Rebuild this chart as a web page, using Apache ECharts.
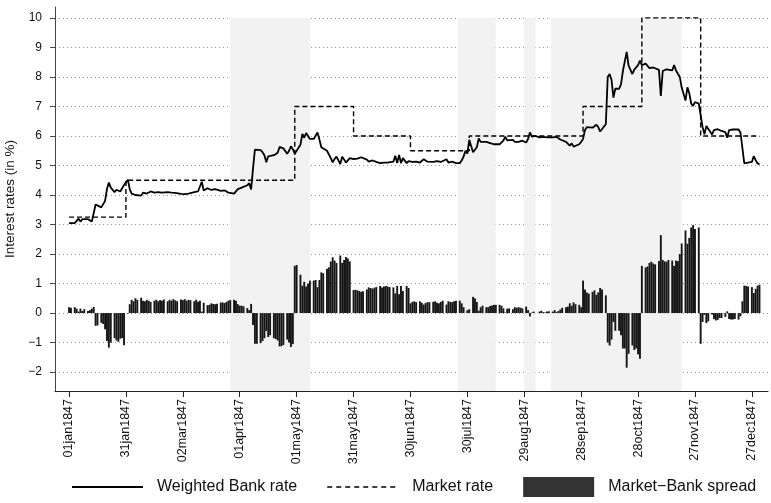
<!DOCTYPE html>
<html>
<head>
<meta charset="utf-8">
<script src="https://cdn.jsdelivr.net/npm/echarts@6/dist/echarts.min.js"></script>
<style>
html, body { margin: 0; padding: 0; background: #fff; }
#chart { width: 771px; height: 503px; }
</style>
</head>
<body>
<div id="chart"></div>
<script>
// weighted Bank rate, one value per business day (Mon-Sat), 1 jan 1847 (Fri) .. 31 dec 1847
const bankRate = [
  3.05, 3.07,
  3.05, 3.10, 3.20, 3.10, 3.18, 3.12,
  3.18, 3.15, 3.10, 3.04, 3.68, 3.67,
  3.58, 3.62, 3.80, 4.20, 4.42, 4.25,
  4.10, 4.18, 4.22, 4.12, 4.10, 4.34,
  4.52, 4.20, 4.05, 4.10, 4.00, 4.05,
  3.98, 4.08, 4.10, 4.05, 4.08, 4.12,
  4.08, 4.05, 4.10, 4.06, 4.08, 4.04,
  4.10, 4.05, 4.08, 4.03, 4.07, 4.10,
  4.04, 4.06, 4.03, 4.08, 4.05, 4.06,
  4.10, 4.05, 4.12, 4.08, 4.45, 4.15,
  4.23, 4.22, 4.17, 4.19, 4.20, 4.18,
  4.14, 4.14, 4.16, 4.12, 4.08, 4.06,
  4.05, 4.08, 4.20, 4.25, 4.25, 4.27,
  4.33, 4.40, 4.19, 4.90, 5.54, 5.54,
  5.52, 5.45, 5.35, 5.11, 5.31, 5.25,
  5.35, 5.38, 5.43, 5.63, 5.62, 5.58,
  5.40, 5.50, 5.65, 5.55, 5.40, 5.37,
  5.70, 6.07, 5.94, 6.10, 6.00, 5.90,
  5.90, 5.88, 6.12, 5.88, 5.62, 5.65,
  5.50, 5.45, 5.25, 5.11, 5.22, 5.30,
  5.05, 5.30, 5.20, 5.10, 5.15, 5.25,
  5.22, 5.21, 5.23, 5.25, 5.28, 5.26,
  5.20, 5.13, 5.15, 5.17, 5.14, 5.12,
  5.08, 5.13, 5.10, 5.08, 5.10, 5.12,
  5.13, 5.33, 5.08, 5.36, 5.08, 5.25,
  5.08, 5.15, 5.17, 5.12, 5.10, 5.13,
  5.10, 5.15, 5.21, 5.16, 5.13, 5.13,
  5.12, 5.10, 5.15, 5.17, 5.12, 5.08,
  5.21, 5.10, 5.12, 5.13, 5.10, 5.08,
  5.08, 5.17, 5.30, 5.50, 5.40, 5.87,
  5.45, 5.50, 5.62, 5.92, 5.80, 5.75,
  5.80, 5.80, 5.76, 5.74, 5.72, 5.72,
  5.72, 5.75, 5.84, 5.98, 5.85, 5.84,
  5.87, 5.80, 5.82, 5.80, 5.82, 5.84,
  5.78, 5.90, 6.12, 5.98, 5.95, 6.00,
  5.95, 5.92, 5.97, 5.98, 5.95, 5.94,
  5.95, 5.90, 5.97, 5.93, 5.88, 5.82,
  5.80, 5.78, 5.67, 5.75, 5.64, 5.70,
  5.72, 5.80, 5.90, 6.20, 6.30, 6.34,
  6.28, 6.23, 6.38, 6.30, 6.15, 6.20,
  6.40, 8.00, 8.10, 7.90, 7.30, 7.60,
  7.60, 7.75, 8.20, 8.20, 8.85, 8.38,
  8.10, 8.25, 8.20, 8.40, 8.55, 8.40,
  8.45, 8.42, 8.30, 8.26, 8.32, 8.35,
  8.24, 7.36, 8.20, 8.25, 8.26, 8.20,
  8.22, 8.40, 8.22, 8.24, 8.00, 7.64,
  7.20, 7.65, 7.45, 7.10, 7.02, 7.15,
  7.10, 7.04, 6.30, 6.06, 6.34, 6.28,
  6.05, 6.20, 6.25, 6.23, 6.17, 6.17,
  6.13, 5.94, 6.20, 6.22, 6.22, 6.20,
  6.22, 6.11, 5.60, 5.07, 5.08, 5.10,
  5.12, 5.32, 5.18, 5.07, 5.04
];

// market rate: date it took effect, rate
const marketSteps = [
  ['1847-01-01', 3.25], ['1847-01-31', 4.5], ['1847-04-30', 7], ['1847-05-31', 6],
  ['1847-06-30', 5.5], ['1847-07-31', 6], ['1847-09-29', 7], ['1847-10-30', 10],
  ['1847-11-30', 6], ['1847-12-31', 6]
];

// shaded periods
const shadedPeriods = [
  ['1847-03-27', '1847-05-08'], ['1847-07-25', '1847-08-14'],
  ['1847-08-29', '1847-09-04'], ['1847-09-12', '1847-11-20']
];

const xTickDates = ['1847-01-01', '1847-01-31', '1847-03-02', '1847-04-01', '1847-05-01', '1847-05-31',
  '1847-06-30', '1847-07-30', '1847-08-29', '1847-09-28', '1847-10-28', '1847-11-27', '1847-12-27'];
const yTicks = [-2, -1, 0, 1, 2, 3, 4, 5, 6, 7, 8, 9, 10];

const DAY = 864e5;
const months = ['jan', 'feb', 'mar', 'apr', 'may', 'jun', 'jul', 'aug', 'sep', 'oct', 'nov', 'dec'];
function toTime(s) {
  const p = s.split('-');
  return new Date(+p[0], +p[1] - 1, +p[2]).getTime();
}
function fmtDate(t) {
  const d = new Date(Math.round(t));
  return String(d.getDate()).padStart(2, '0') + months[d.getMonth()] + d.getFullYear();
}
function marketAt(t) {
  let r = marketSteps[0][1];
  marketSteps.forEach(function (s) { if (toTime(s[0]) <= t) r = s[1]; });
  return r;
}

// business days of 1847 (no sundays)
const days = [];
for (let i = 0; i < 365; i++) {
  const dt = new Date(1847, 0, 1 + i);
  if (dt.getDay() !== 0) days.push(dt.getTime());
}

const bankData = days.map(function (t, i) { return [t, bankRate[i]]; });
const spreadData = days.map(function (t, i) { return [t, +(marketAt(t) - bankRate[i]).toFixed(2)]; });
const marketData = marketSteps.map(function (s) { return [toTime(s[0]), s[1]]; });

const start = toTime('1847-01-01');
const yMin = -2.64, yMax = 10.37;
const font = '"Liberation Sans", Arial, sans-serif';

// legend icons: tiny corner dots keep the 71x20 box so the line stays thin
const box = 'M0,0h0.01v0.01h-0.01z M70.99,19.99h0.01v0.01h-0.01z ';
const solidIcon = 'path://' + box + 'M0,9.1h71v1.8h-71z';
let dashIcon = 'path://' + box;
for (let x = 0; x < 71; x += 9) dashIcon += 'M' + x + ',9.3h5v1.4h-5z ';

const chart = echarts.init(document.getElementById('chart'));
chart.setOption({
  animation: false,
  backgroundColor: '#fff',
  textStyle: { fontFamily: font },
  grid: { left: 55, right: 3, top: 7, bottom: 112, containLabel: false, outerBoundsMode: 'none' },
  legend: {
    left: 72,
    top: 477,
    padding: 0,
    itemWidth: 71,
    itemHeight: 20,
    itemGap: 30,
    textStyle: { fontSize: 16, color: '#111', fontFamily: font, padding: [0, 0, 0, 9] },
    data: [
      { name: 'Weighted Bank rate', icon: solidIcon, itemStyle: { color: '#000' } },
      { name: 'Market rate', icon: dashIcon, itemStyle: { color: '#000' } },
      { name: 'Market\u2212Bank spread', icon: 'rect', itemStyle: { color: '#333' } }
    ]
  },
  xAxis: {
    type: 'value',
    min: start - 7.4 * DAY,
    max: start + 368.5 * DAY,
    axisLine: { show: true, onZero: false, lineStyle: { color: '#222', width: 1 } },
    axisTick: { show: true, length: 6, lineStyle: { color: '#222' }, customValues: xTickDates.map(toTime) },
    axisLabel: {
      customValues: xTickDates.map(toTime),
      rotate: 90,
      margin: 8,
      fontSize: 12.5,
      color: '#111',
      formatter: function (v) { return fmtDate(v); }
    },
    splitLine: { show: false }
  },
  yAxis: {
    type: 'value',
    min: yMin,
    max: yMax,
    name: 'Interest rates (in %)',
    nameLocation: 'middle',
    nameGap: 35,
    nameTextStyle: { fontSize: 13.5, color: '#111' },
    axisLine: { show: true, lineStyle: { color: '#444', width: 1 } },
    axisTick: { show: true, length: 5, lineStyle: { color: '#444' }, customValues: yTicks },
    axisLabel: {
      customValues: yTicks,
      margin: 13,
      fontSize: 12,
      color: '#111',
      formatter: function (v) { return v < 0 ? '\u2212' + Math.abs(v) : String(v); }
    },
    splitLine: { show: true, lineStyle: { color: '#999', type: [1, 3], width: 1 } }
  },
  series: [
    {
      name: 'shade',
      type: 'line',
      data: [],
      z: 1,
      silent: true,
      markArea: {
        silent: true,
        itemStyle: { color: '#f2f2f2' },
        data: shadedPeriods.map(function (p) {
          return [{ xAxis: toTime(p[0]), yAxis: 10 }, { xAxis: toTime(p[1]), yAxis: yMin }];
        })
      }
    },
    {
      name: 'Market\u2212Bank spread',
      type: 'bar',
      data: spreadData,
      barWidth: 1.9,
      z: 2,
      itemStyle: { color: '#161616' }
    },
    {
      name: 'Market rate',
      type: 'line',
      data: marketData,
      step: 'end',
      symbol: 'none',
      z: 3,
      lineStyle: { color: '#000', width: 1.4, type: [5, 3] }
    },
    {
      name: 'Weighted Bank rate',
      type: 'line',
      data: bankData,
      symbol: 'none',
      z: 4,
      lineStyle: { color: '#000', width: 1.8 }
    }
  ]
});
</script>
</body>
</html>
